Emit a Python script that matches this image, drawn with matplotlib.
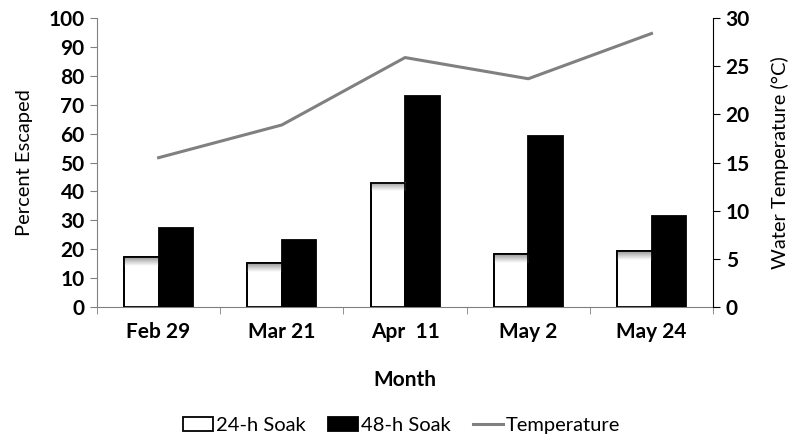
import numpy as np
import matplotlib.pyplot as plt

months = ["Feb 29", "Mar 21", "Apr  11", "May 2", "May 24"]
soak_24h = [17.2, 15.1, 43.0, 18.2, 19.4]
soak_48h = [27.4, 23.2, 73.1, 59.3, 31.5]
temperature = [15.5, 18.9, 25.9, 23.7, 28.4]

plt.rcParams['font.family'] = ['Lato', 'DejaVu Sans']

fig = plt.figure(figsize=(7.95, 4.41), dpi=100)
ax = fig.add_axes([0.122, 0.304, 0.775, 0.655])
ax2 = ax.twinx()

x = np.arange(len(months))
w = 0.28
b1 = ax.bar(x - w / 2, soak_24h, w, color="white", edgecolor="black", linewidth=1.3,
            label="24-h Soak", zorder=3)
b2 = ax.bar(x + w / 2, soak_48h, w, color="black", edgecolor="black", linewidth=1.3,
            label="48-h Soak", zorder=3)

# soft gray shading just under the top edge of the white bars
grad = np.linspace(0.6, 1.0, 50).reshape(-1, 1)
for rect in b1:
    x0, h = rect.get_x(), rect.get_height()
    ax.imshow(grad, cmap="gray", vmin=0, vmax=1, aspect="auto", origin="upper",
              extent=(x0, x0 + w, h - 3.0, h), zorder=3.5, interpolation="bilinear")
    ax.plot([x0, x0, x0 + w, x0 + w], [0, h, h, 0], color="black", lw=1.3, zorder=4)

line, = ax2.plot(x, temperature, color="#808080", lw=2.2, label="Temperature")

ax.set_xlim(-0.5, len(months) - 0.5)
ax.set_ylim(0, 100)
ax2.set_ylim(0, 30)
ax.set_yticks(range(0, 101, 10))
ax2.set_yticks(range(0, 31, 5))
ax.set_xticks(x)
ax.set_xticklabels(months, fontsize=15, fontweight="bold")
ax.set_xticks(np.arange(-0.5, len(months)), minor=True)
ax.tick_params(axis="x", which="major", length=0, pad=11)
ax.tick_params(axis="x", which="minor", length=5, color="#808080", direction="out")
ax.tick_params(axis="y", length=5, color="#808080", labelsize=15, pad=4)
ax2.tick_params(axis="y", length=5, color="black", labelsize=15, pad=4)
for t in ax.get_yticklabels() + ax2.get_yticklabels():
    t.set_fontweight("bold")

for a in (ax, ax2):
    a.spines["top"].set_visible(False)
ax.spines["left"].set_color("#808080")
ax.spines["bottom"].set_color("#808080")
ax.spines["right"].set_visible(False)
ax2.spines["left"].set_visible(False)
ax2.spines["bottom"].set_visible(False)
ax2.spines["right"].set_color("black")

ax.set_ylabel("Percent Escaped", fontsize=14.5, labelpad=11)
ax2.set_ylabel("Water Temperature (°C)", fontsize=14.5, labelpad=15)
ax.set_xlabel("Month", fontsize=15, fontweight="bold", labelpad=20)

fig.legend([b1, b2, line], ["24-h Soak", "48-h Soak", "Temperature"],
           loc="center", bbox_to_anchor=(0.505, 0.035), ncol=3, frameon=False,
           fontsize=14.5, handlelength=1.5, handletextpad=0.15, columnspacing=1.1)

fig.savefig("out.png", dpi=100)
